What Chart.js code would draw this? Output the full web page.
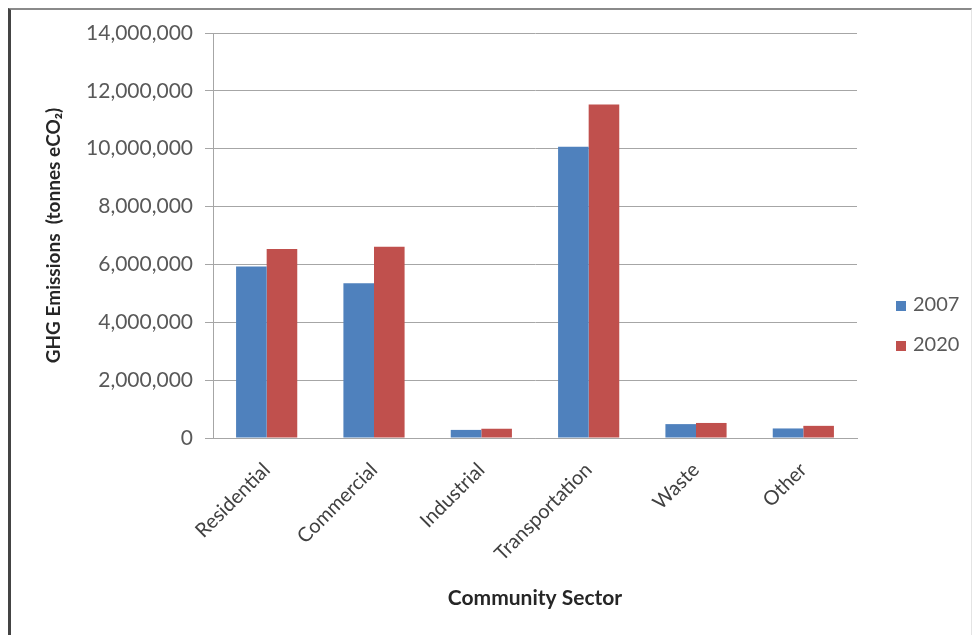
<!DOCTYPE html>
<html>
<head>
<meta charset="utf-8">
<script src="https://cdn.jsdelivr.net/npm/chart.js@4/dist/chart.umd.min.js"></script>
<style>
  body { margin: 0; background: #fff; }
  #wrap { position: relative; width: 974px; height: 635px; overflow: hidden; }
  #frame {
    position: absolute; left: 8px; top: 8px; width: 960px; height: 640px;
    border-left: 3px solid #444; border-top: 2px solid #8a8a8a; border-right: 1px solid #e4e4e4;
  }
  #chart { position: absolute; left: 0; top: 0; }
  #legend { position: absolute; left: 896px; top: 290px; font-family: Lato, sans-serif; font-size: 20px; color: #595959; }
  #legend div { height: 40px; line-height: 26px; }
  #legend span.box { display: inline-block; width: 10px; height: 10px; margin-right: 7px; }
</style>
</head>
<body>
<div id="wrap">
  <div id="frame"></div>
  <canvas id="chart" width="974" height="635"></canvas>
  <div id="legend"></div>
</div>
<script>
const sectors = ["Residential", "Commercial", "Industrial", "Transportation", "Waste", "Other"];
const years = ["2007", "2020"];
const emissions2007 = [5930000, 5350000, 280000, 10070000, 480000, 330000];
const emissions2020 = [6530000, 6610000, 320000, 11530000, 520000, 420000];
const yTicks = [0, 2000000, 4000000, 6000000, 8000000, 10000000, 12000000, 14000000];
const colors = ["#4F81BD", "#C0504D"];

const font = "Lato";

let legend = document.querySelector("#legend");
years.forEach((y, i) => {
  let row = document.createElement("div");
  row.innerHTML = '<span class="box" style="background:' + colors[i] + '"></span>' + y;
  legend.appendChild(row);
});

let ctx = document.querySelector("#chart").getContext("2d");

new Chart(ctx, {
  type: "bar",
  data: {
    labels: sectors,
    datasets: [
      { label: years[0], data: emissions2007, backgroundColor: colors[0], categoryPercentage: 0.57, barPercentage: 1.0 },
      { label: years[1], data: emissions2020, backgroundColor: colors[1], categoryPercentage: 0.57, barPercentage: 1.0 },
    ],
  },
  options: {
    responsive: false,
    animation: false,
    layout: { padding: { left: 30, top: 33, right: 117, bottom: 0 } },
    plugins: { legend: { display: false }, tooltip: { enabled: false } },
    scales: {
      x: {
        grid: { display: false },
        border: { display: true, color: "#a6a6a6", width: 1 },
        ticks: {
          minRotation: 45, maxRotation: 45, padding: 12,
          color: "#404040", font: { family: font, size: 20 },
        },
        title: {
          display: true, text: "Community Sector", color: "#262626",
          font: { family: font, size: 21, weight: "bold" },
          padding: { top: 0, bottom: 24 },
        },
        afterFit: (scale) => { scale.height = 197; },
      },
      y: {
        min: 0,
        max: 14000000,
        afterBuildTicks: (scale) => { scale.ticks = yTicks.map((v) => ({ value: v })); },
        grid: { color: "#a6a6a6", tickLength: 8 },
        border: { display: true, color: "#a6a6a6" },
        ticks: {
          padding: 12, color: "#595959", font: { family: font, size: 21 },
          callback: (v) => v.toLocaleString("en-US"),
        },
        title: {
          display: true, text: "GHG Emissions  (tonnes eCO\u2082)", color: "#262626",
          font: { family: font, size: 19, weight: "bold" },
          padding: { top: 12, bottom: 0 },
        },
        afterFit: (scale) => { scale.width = 183; },
      },
    },
  },
});
</script>
</body>
</html>
